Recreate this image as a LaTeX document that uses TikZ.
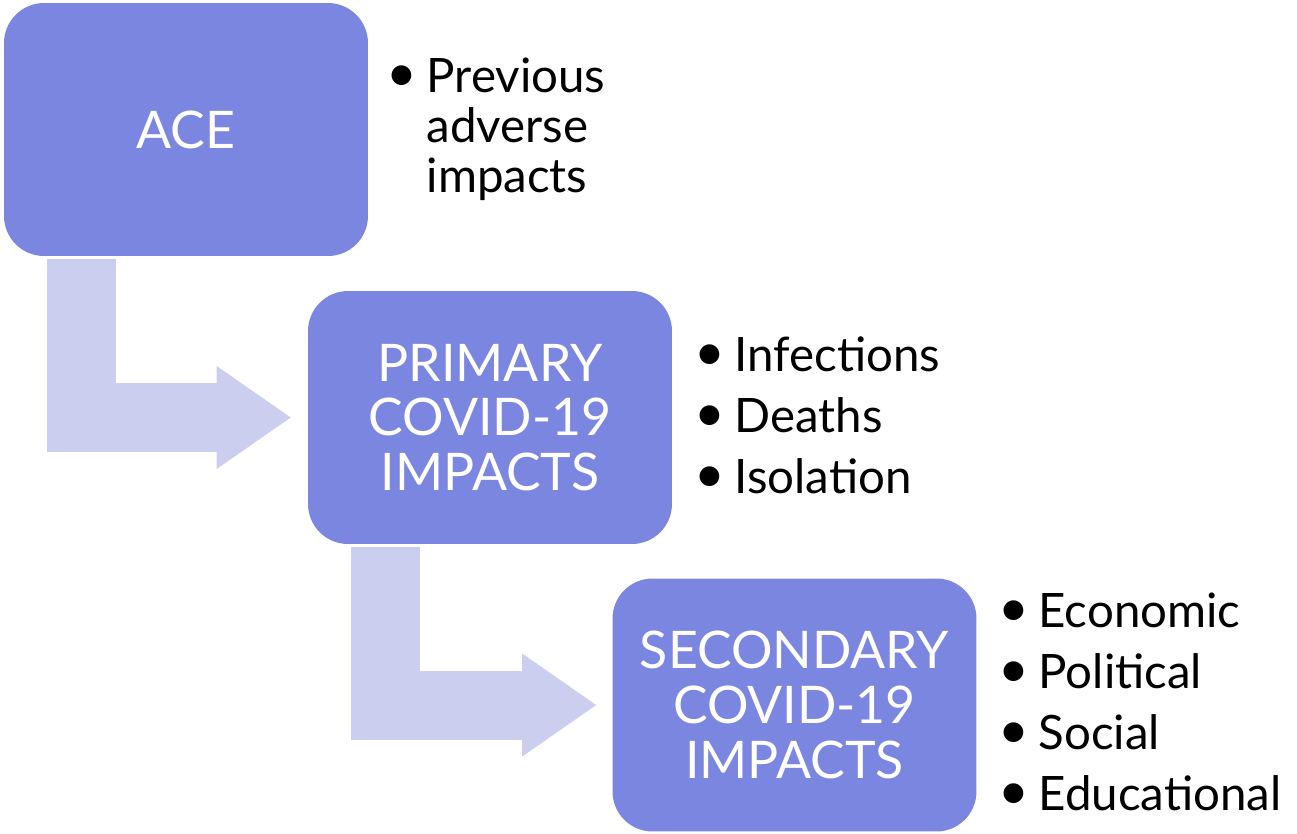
\documentclass[tikz,border=0pt]{standalone}
\usepackage{fontspec}
\setmainfont{Lato}
\usetikzlibrary{arrows.meta}

\definecolor{boxblue}{RGB}{123,134,224}
\definecolor{flowblue}{RGB}{203,206,239}
\newcommand\bul{\raisebox{0.02em}{\scalebox{1.12}{\textbullet}}\hspace{0.2em}}

\begin{document}
\begin{tikzpicture}[
    x=0.02cm, y=-0.02cm,
    stage/.style={rectangle, rounded corners=0.8cm, fill=boxblue, text=white, align=center,
        minimum width=7.28cm, minimum height=5.06cm, font=\fontsize{29.5}{31.2}\selectfont},
    bullets/.style={anchor=base west, align=left, inner sep=0pt, font=\fontsize{27}{34.6}\selectfont},
    flow/.style={draw=flowblue, line width=1.38cm,
        -{Triangle[width=2.06cm, length=1.48cm, line width=0pt, fill=flowblue]}}
]
\useasboundingbox (0,0) rectangle (1297,833);

\node[stage] (ace) at (186,129.5) {ACE};
\node[stage] (primary) at (490,417.5) {PRIMARY\\COVID-19\\IMPACTS};
\node[stage] (secondary) at (794.5,705) {SECONDARY\\COVID-19\\IMPACTS};

% lists (anchored at the baseline of the last line)
\node[bullets, font=\fontsize{27}{28.3}\selectfont] (acelist) at (386,192)
    {\bul Previous\\\phantom{\bul}adverse\\\phantom{\bul}impacts};
\node[bullets] (primarylist) at (694,493)
    {\bul Infections\\\bul Deaths\\\bul Isolation};
\node[bullets] (secondarylist) at (998,810)
    {\bul Economic\\\bul Political\\\bul Social\\\bul Educational};

% arrows
\coordinate (start1) at ([xshift=1.55cm, yshift=-0.06cm]ace.south west);
\coordinate (start2) at ([xshift=1.55cm, yshift=-0.06cm]primary.south west);
\draw[flow, shorten >=0.34cm] (start1) |- (primary.west);
\draw[flow, shorten >=0.32cm] (start2) |- (secondary.west);

\end{tikzpicture}
\end{document}
